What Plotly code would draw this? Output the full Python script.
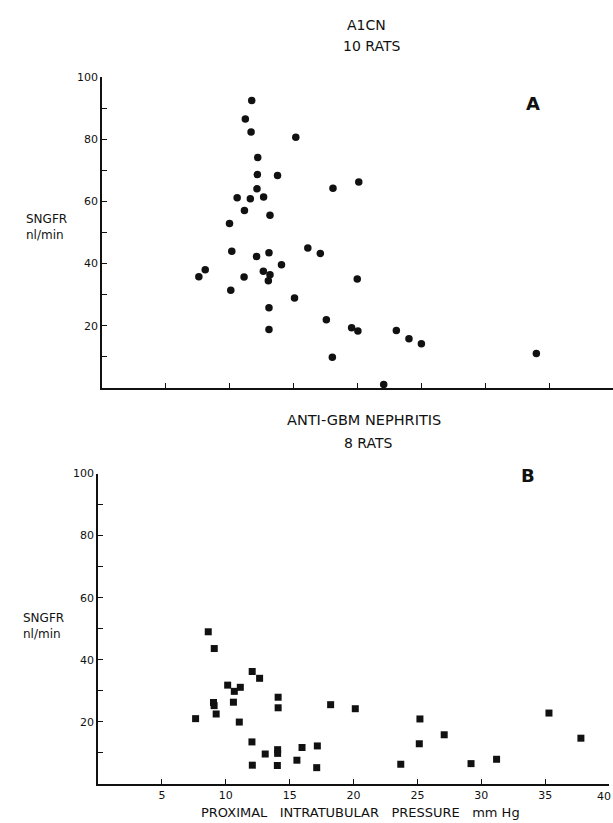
import plotly.graph_objects as go

# Panel A: AICN, 10 rats (circles)
a_pressure = [7.58, 8.08, 10.08, 9.98, 10.16, 10.58, 11.15, 11.22, 11.72, 11.67, 11.61, 11.12,
              12.19, 12.16, 12.13, 12.10, 12.65, 12.63, 13.15, 13.07, 13.15, 13.02, 13.07, 13.07,
              13.74, 14.05, 15.17, 15.07, 16.11, 17.09, 18.08, 20.1, 19.98, 17.56, 19.54, 20.03,
              18.03, 23.04, 24.03, 25.0, 34.0, 22.05]
a_sngfr = [35.8, 38.0, 31.4, 52.9, 44.0, 61.2, 57.1, 86.6, 92.6, 82.4, 60.9, 35.7,
           74.2, 68.7, 64.1, 42.3, 61.5, 37.5, 55.6, 43.5, 36.4, 34.5, 25.8, 18.8,
           68.4, 39.6, 80.7, 28.9, 45.0, 43.3, 64.3, 66.3, 35.0, 21.9, 19.3, 18.3,
           9.8, 18.4, 15.8, 14.2, 11.0, 1.0]

# Panel B: anti-GBM nephritis, 8 rats (squares)
b_pressure = [7.64, 8.63, 9.10, 9.04, 9.09, 9.25, 10.15, 10.67, 11.14, 10.6, 11.06, 12.07,
              12.65, 12.05, 12.08, 13.09, 14.1, 14.1, 14.06, 14.06, 14.04, 15.57, 15.97, 17.17,
              17.12, 18.21, 20.14, 25.2, 25.15, 27.1, 23.7, 29.2, 31.2, 35.3, 37.8]
b_sngfr = [21.0, 49.0, 43.6, 26.2, 25.2, 22.5, 31.8, 29.8, 31.1, 26.3, 19.9, 36.2,
           34.0, 13.5, 6.0, 9.6, 27.9, 24.5, 11.0, 9.8, 5.9, 7.6, 11.7, 12.2,
           5.2, 25.5, 24.2, 20.9, 12.9, 15.8, 6.3, 6.5, 7.9, 22.8, 14.7]

y_ticks = [10, 20, 30, 40, 50, 60, 70, 80, 90, 100]
y_labels = ["", "20", "", "40", "", "60", "", "80", "", "100"]
x_ticks = [5, 10, 15, 20, 25, 30, 35, 40]
x_labels = ["5", "10", "15", "20", "25", "30", "35", ""]
x_last_label = "40"

FONT = "DejaVu Sans"
INK = "#111111"
W, H = 613, 823

fig = go.Figure()
fig.add_trace(go.Scatter(x=a_pressure, y=a_sngfr, mode="markers", xaxis="x", yaxis="y",
                         marker=dict(symbol="circle", size=7.5, color=INK), cliponaxis=False,
                         showlegend=False))
fig.add_trace(go.Scatter(x=b_pressure, y=b_sngfr, mode="markers", xaxis="x2", yaxis="y2",
                         marker=dict(symbol="square", size=7, color=INK), cliponaxis=False,
                         showlegend=False))

axis_common = dict(showline=True, linecolor=INK, linewidth=1.6, showgrid=False, zeroline=False,
                   ticks="inside", ticklen=5, tickwidth=1.3, tickcolor=INK,
                   tickfont=dict(family=FONT, size=11, color=INK))

fig.update_layout(
    width=W, height=H, autosize=False,
    margin=dict(l=0, r=0, t=0, b=0),
    paper_bgcolor="white", plot_bgcolor="white",
    xaxis=dict(domain=[102 / W, 1.0], range=[0, 40], anchor="y", tickvals=x_ticks,
               ticktext=[""] * len(x_ticks), **axis_common),
    yaxis=dict(domain=[(H - 384.5) / H, (H - 72) / H], range=[0, 100], anchor="x",
               tickvals=y_ticks, ticktext=y_labels, **axis_common),
    xaxis2=dict(domain=[98 / W, 609 / W], range=[0, 40], anchor="y2", tickvals=x_ticks,
                ticktext=x_labels, **axis_common),
    yaxis2=dict(domain=[(H - 783.5) / H, (H - 471) / H], range=[0, 100], anchor="x2",
                tickvals=y_ticks, ticktext=y_labels, **axis_common),
)

def px_ann(text, x, y, size=11, bold=False, align="center", xanchor="center"):
    fig.add_annotation(text=f"<b>{text}</b>" if bold else text, xref="paper", yref="paper",
                       x=x / W, y=1 - y / H, xanchor=xanchor, yanchor="middle", showarrow=False,
                       align=align, font=dict(family=FONT, size=size, color=INK))

px_ann("A1CN", 366, 19, size=14)
px_ann("10 RATS", 371, 40, size=14)
px_ann("ANTI-GBM NEPHRITIS", 364, 417, size=14.5)
px_ann("8 RATS", 368, 440, size=14)
px_ann("A", 533, 98, size=18, bold=True)
px_ann("B", 528, 473, size=18, bold=True)
px_ann("SNGFR<br>nl/min", 46, 223, size=12, align="left")
px_ann("SNGFR<br>nl/min", 43, 625, size=12, align="left")
px_ann("PROXIMAL   INTRATUBULAR   PRESSURE   mm Hg", 360, 812, size=13)
# last x tick label of panel B sits against the right edge of the page
fig.add_annotation(text=x_last_label, xref="paper", yref="paper", x=1.0, y=1 - 796.5 / H,
                   xanchor="right", yanchor="middle", showarrow=False,
                   font=dict(family=FONT, size=11, color=INK))

fig.write_html("out.html")
